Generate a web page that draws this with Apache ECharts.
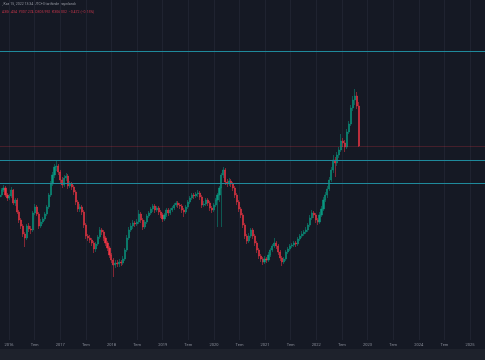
<!DOCTYPE html>
<html><head><meta charset="utf-8">
<script src="https://cdn.jsdelivr.net/npm/echarts@6/dist/echarts.min.js"></script>
<style>html,body{margin:0;padding:0;background:#151924;}#c{width:485px;height:360px;}</style>
</head><body><div id="c"></div>
<script>
// Biweekly candles, starting date and step (axis domain)
const firstDate = '2015-10-26';
const stepDays = 14;
const opens = [255,257,262,264,257,254,256,262,249,252,
 240,232,226,218,214,226,223,222,239,245,
 238,226,230,233,238,245,257,268,277,285,
 286,280,272,267,274,276,266,268,265,260,
 250,243,245,240,227,216,214,212,209,203,
 208,215,222,220,214,209,204,197,192,187,
 189,188,190,189,193,202,214,222,226,229,
 228,230,238,232,225,230,236,239,243,246,
 242,244,240,237,233,237,242,239,242,244,
 247,249,247,246,242,240,245,250,254,257,
 256,258,259,255,247,248,252,249,244,242,
 247,252,257,264,277,282,270,268,271,268,
 264,257,250,243,237,227,216,211,216,222,
 216,209,202,196,193,190,193,192,197,202,
 206,209,206,200,194,190,193,200,203,206,
 207,209,208,213,216,218,220,222,227,234,
 239,237,232,230,237,243,252,257,263,272,
 282,292,289,297,302,311,309,305,320,328,
 344,352,356,346];
const closes = [257,262,264,257,254,256,262,249,252,240,
 232,226,218,214,226,223,222,239,245,238,
 226,230,233,238,245,257,268,277,285,286,
 280,272,267,274,276,266,268,265,260,250,
 243,245,240,227,216,214,212,209,203,208,
 215,222,220,214,209,204,197,192,187,189,
 188,190,189,193,202,214,222,226,229,228,
 230,238,232,225,230,236,239,243,246,242,
 244,240,237,233,237,242,239,242,244,247,
 249,247,246,242,240,245,250,254,257,256,
 258,259,255,247,248,252,249,244,242,247,
 252,257,264,277,282,270,268,271,268,264,
 257,250,243,237,227,216,211,216,222,216,
 209,202,196,193,190,193,192,197,202,206,
 209,206,200,194,190,193,200,203,206,207,
 209,208,213,216,218,220,222,227,234,239,
 237,232,230,237,243,252,257,263,272,282,
 292,289,297,302,311,309,305,320,328,344,
 352,356,346,306];
const lows = [252,255,260,255,251,252,254,247,246,238,
 229,223,215,205,212,220,218,220,237,236,
 223,224,228,231,236,243,255,266,274,281,
 277,269,264,265,271,263,264,262,257,247,
 240,240,237,224,213,211,209,206,199,200,
 206,213,217,211,206,201,194,189,175,184,
 185,185,186,187,191,200,212,220,223,225,
 226,228,229,222,223,228,234,237,240,239,
 240,237,234,230,231,235,236,237,240,242,
 245,244,243,239,235,238,243,248,252,253,
 254,255,252,244,245,246,246,241,239,240,
 245,225,250,225,274,267,265,266,265,261,
 254,247,240,234,224,213,208,209,214,213,
 206,199,193,190,187,188,189,190,195,200,
 204,203,197,191,186,188,191,198,201,204,
 205,205,206,211,214,216,218,220,225,232,
 234,229,227,228,235,241,250,254,261,270,
 279,275,286,294,300,305,300,303,318,326,
 341,347,343,305];
const highs = [259,264,267,266,259,258,265,263,254,254,
 242,234,228,220,228,229,226,241,248,247,
 240,233,235,240,247,259,271,280,288,291,
 288,282,275,277,279,278,271,270,267,262,
 252,248,247,242,229,218,217,214,211,210,
 217,225,224,222,216,211,206,199,194,192,
 192,193,192,196,204,217,225,229,232,231,
 233,242,240,234,232,238,241,245,248,248,
 246,246,242,239,239,244,244,244,246,249,
 251,251,249,248,244,247,252,256,259,259,
 260,262,261,257,251,254,254,251,246,249,
 254,259,266,279,285,284,273,274,273,270,
 266,259,252,245,239,229,218,219,224,224,
 218,211,204,198,195,196,195,200,204,208,
 214,211,208,202,196,195,202,205,208,209,
 211,211,215,218,221,222,225,229,237,242,
 241,239,234,240,246,255,260,266,275,285,
 297,295,300,305,318,314,312,323,331,347,
 356,363,360,350];
const levelLines = [401, 292, 269];
const lastPrice = 306;
const yearTicks = [2016,2016.5,2017,2017.5,2018,2018.5,2019,2019.5,2020,2020.5,2021,2021.5,2022,2022.5,2023,2023.5,2024,2024.5,2025];
const halfLabel = 'Tem';
const headerLine1 = ', Kas 15, 2022 13:34 UTC+3 tarihinde yayınlandı';
const headerLine2 = 'A306.434  Y307.274  D305.992  K306.002  −0.472 (−0.15%)';

function toYear(d) {
  const y = d.getUTCFullYear();
  const a = Date.UTC(y, 0, 1), b = Date.UTC(y + 1, 0, 1);
  return y + (d.getTime() - a) / (b - a);
}
const t0 = new Date(firstDate + 'T00:00:00Z').getTime();
const data = closes.map((c, i) => {
  const t = toYear(new Date(t0 + i * stepDays * 86400000));
  return [t, opens[i], c, lows[i], highs[i]];
});

const chart = echarts.init(document.getElementById('c'), null, {renderer: 'canvas'});
chart.setOption({
  backgroundColor: '#151924',
  animation: false,
  grid: {left: 0, right: 0, top: 0, bottom: 20, containLabel: false},
  xAxis: {
    type: 'value', min: 2015.8243, max: 2025.2932,
    axisLine: {show: false},
    axisTick: {show: false, customValues: yearTicks},
    splitLine: {show: true, lineStyle: {color: '#1f2330', width: 1}},
    axisLabel: {
      customValues: yearTicks, color: '#8b8f9a', fontSize: 4, margin: 3,
      fontFamily: 'Roboto',
      formatter: v => (Math.abs(v - Math.round(v)) < 1e-6 ? String(Math.round(v)) : halfLabel)
    }
  },
  yAxis: {
    type: 'value', min: 112, max: 452, show: true,
    axisLine: {show: false}, axisTick: {show: false}, axisLabel: {show: false},
    splitLine: {show: false}
  },
  graphic: [
    {type: 'rect', shape: {x: 0, y: 349, width: 485, height: 11}, style: {fill: '#1e222c'}, z: -1},
    {type: 'text', left: 2, top: 2, style: {text: headerLine1, fill: '#9598a1', fontSize: 3.5, fontFamily: 'Roboto'}},
    {type: 'text', left: 2, top: 10, style: {text: headerLine2, fill: '#c4364a', fontSize: 3.5, fontFamily: 'Roboto'}}
  ],
  series: [{
    type: 'candlestick',
    data: data,
    encode: {x: 0, y: [1, 2, 3, 4]},
    barWidth: 1.6,
    itemStyle: {
      color: '#089981', color0: '#f23645',
      borderColor: '#089981', borderColor0: '#f23645', borderWidth: 0.5
    },
    markLine: {
      symbol: 'none', silent: true, animation: false,
      label: {show: false},
      data: levelLines.map(v => ({yAxis: v, lineStyle: {color: '#1f8a9c', width: 1.2, type: 'solid'}}))
        .concat([{yAxis: lastPrice, lineStyle: {color: 'rgba(242,54,69,0.22)', width: 1, type: 'solid'}}])
    }
  }]
});
</script></body></html>
